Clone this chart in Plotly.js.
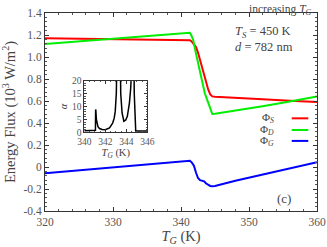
<!DOCTYPE html>
<html>
<head>
<meta charset="utf-8">
<script src="https://cdn.plot.ly/plotly-3.0.1.min.js"></script>
<style>html,body{margin:0;padding:0;background:#fff;}#plot{width:327px;height:247px;}</style>
</head>
<body>
<div id="plot"></div>
<script>
// Main panel data (T_G in K, flux in 10^3 W/m^2)
var tS = [320, 325, 330, 335, 340, 341, 341.3, 341.6, 341.9, 342.2, 342.5, 342.8, 343.1, 343.4, 343.7, 344.0, 344.3, 344.6, 345, 348, 352, 356, 360];
var phiS = [1.170, 1.166, 1.163, 1.160, 1.156, 1.155, 1.152, 1.140, 1.120, 1.090, 1.040, 0.975, 0.900, 0.830, 0.765, 0.705, 0.660, 0.642, 0.638, 0.631, 0.617, 0.603, 0.590];

var tD = [320, 325, 330, 335, 339, 340, 341, 341.3, 341.5, 341.8, 342.1, 342.5, 343.0, 343.5, 344.0, 344.3, 344.45, 344.6, 345, 348, 352, 356, 360];
var phiD = [1.118, 1.143, 1.167, 1.190, 1.208, 1.213, 1.220, 1.220, 1.200, 1.155, 1.060, 0.943, 0.800, 0.670, 0.585, 0.536, 0.505, 0.482, 0.484, 0.512, 0.552, 0.596, 0.640];

var tG = [320, 330, 335, 340, 341, 341.3, 341.6, 341.9, 342.2, 342.5, 342.8, 343.1, 343.4, 343.7, 344.0, 344.3, 344.6, 345, 348, 352, 356, 360];
var phiG = [-0.057, -0.003, 0.025, 0.052, 0.057, 0.057, 0.040, 0.012, -0.050, -0.100, -0.120, -0.124, -0.130, -0.150, -0.165, -0.172, -0.175, -0.172, -0.125, -0.070, -0.015, 0.043];

// Inset data: alpha vs T_G
var tA = [340, 340.5, 341.0, 341.06, 341.08, 341.1, 341.15, 341.22, 341.3, 341.45, 341.7, 342.0, 342.4, 342.7, 342.85, 342.95, 343.05, 343.15, 343.4, 343.47, 343.52, 343.6, 343.77, 343.95, 344.1, 344.3, 344.42, 344.5, 344.7, 344.76, 344.82, 344.9, 345.2, 346];
var alpha = [0.6, 0.6, 0.7, 0.8, 8.8, 8.5, 5.0, 3.0, 2.2, 1.5, 1.1, 1.0, 1.7, 3.6, 5.5, 8.2, 15, 40, 40, 15, 10.7, 7.5, 4.3, 4.8, 6.2, 11.4, 17, 40, 40, 15, 3, 0.5, 0.5, 0.5];

var serif = 'Liberation Serif, DejaVu Serif, serif';
var txt = '#444';

var traces = [
  {x: tS, y: phiS, type: 'scatter', mode: 'lines', line: {color: '#ff0000', width: 2}, xaxis: 'x', yaxis: 'y', hoverinfo: 'skip'},
  {x: tD, y: phiD, type: 'scatter', mode: 'lines', line: {color: '#00ee00', width: 2}, xaxis: 'x', yaxis: 'y', hoverinfo: 'skip'},
  {x: tG, y: phiG, type: 'scatter', mode: 'lines', line: {color: '#0000ff', width: 2}, xaxis: 'x', yaxis: 'y', hoverinfo: 'skip'},
  {x: tA, y: alpha, type: 'scatter', mode: 'lines', line: {color: '#000', width: 1.5}, xaxis: 'x2', yaxis: 'y2', hoverinfo: 'skip'}
];

var yTicks = [-0.4, -0.2, 0, 0.2, 0.4, 0.6, 0.8, 1.0, 1.2, 1.4];
var yTickText = ['-0.4', '-0.2', '0', '0.2', '0.4', '0.6', '0.8', '1.0', '1.2', '1.4'];

var legendY = [0.468, 0.409, 0.354];
var legendNames = ['Φ<sub><i>S</i></sub>', 'Φ<sub><i>D</i></sub>', 'Φ<sub><i>G</i></sub>'];
var legendColors = ['#ff0000', '#00ee00', '#0000ff'];

var annotations = [
  {text: 'increasing <i>T</i><sub><i>G</i></sub>', xref: 'paper', yref: 'paper', x: 0.99, y: 1.062, xanchor: 'right', yanchor: 'top', showarrow: false, font: {family: serif, size: 11.5, color: txt}},
  {text: '<i>T</i><sub><i>S</i></sub> = 450 K', xref: 'paper', yref: 'paper', x: 0.69, y: 0.906, xanchor: 'left', yanchor: 'middle', showarrow: false, font: {family: serif, size: 12.5, color: txt}},
  {text: '<i>d</i> = 782 nm', xref: 'paper', yref: 'paper', x: 0.69, y: 0.83, xanchor: 'left', yanchor: 'middle', showarrow: false, font: {family: serif, size: 12.5, color: txt}},
  {text: '(c)', xref: 'paper', yref: 'paper', x: 0.88, y: 0.064, xanchor: 'center', yanchor: 'middle', showarrow: false, font: {family: serif, size: 13, color: txt}}
];
var shapes = [];
for (var i = 0; i < 3; i++) {
  annotations.push({text: legendNames[i], xref: 'paper', yref: 'paper', x: 0.85, y: legendY[i], xanchor: 'right', yanchor: 'middle', showarrow: false, font: {family: serif, size: 11, color: txt}});
  shapes.push({type: 'line', xref: 'paper', yref: 'paper', x0: 0.907, x1: 0.968, y0: legendY[i], y1: legendY[i], line: {color: legendColors[i], width: 2}});
}

var layout = {
  width: 327, height: 247,
  margin: {l: 45, r: 10, t: 13, b: 36},
  paper_bgcolor: '#fff', plot_bgcolor: '#fff',
  showlegend: false,
  font: {family: serif, color: txt},
  xaxis: {
    range: [320, 360], dtick: 10, tick0: 320, ticks: 'inside', ticklen: 4, tickcolor: '#333',
    mirror: 'allticks', showline: true, linecolor: '#333', linewidth: 1, showgrid: false, zeroline: false,
    tickfont: {family: serif, size: 11.5, color: '#555'},
    minor: {dtick: 2, ticks: 'inside', ticklen: 2, tickcolor: '#555'},
    title: {text: '<i>T</i><sub><i>G</i></sub> (K)', font: {family: serif, size: 14.5, color: txt}, standoff: 4},
    domain: [0, 1]
  },
  yaxis: {
    range: [-0.4, 1.4], tickvals: yTicks, ticktext: yTickText, ticks: 'inside', ticklen: 4, tickcolor: '#333',
    mirror: 'allticks', showline: true, linecolor: '#333', linewidth: 1, showgrid: false, zeroline: false,
    tickfont: {family: serif, size: 11.5, color: '#555'},
    minor: {dtick: 0.04, ticks: 'inside', ticklen: 2, tickcolor: '#555'},
    title: {text: 'Energy Flux (10<sup>3</sup> W/m<sup>2</sup>)', font: {family: serif, size: 14.5, color: txt}, standoff: 5},
    domain: [0, 1]
  },
  xaxis2: {
    anchor: 'y2', domain: [0.1445, 0.376], range: [340, 346], dtick: 2, tick0: 340,
    ticks: 'inside', ticklen: 3, tickcolor: '#333', mirror: 'allticks', showline: true, linecolor: '#333', linewidth: 1,
    showgrid: false, zeroline: false,
    tickfont: {family: serif, size: 9.5, color: '#555'},
    minor: {dtick: 0.5, ticks: 'inside', ticklen: 1.5, tickcolor: '#555'},
    title: {text: '<i>T</i><sub><i>G</i></sub> (K)', font: {family: serif, size: 10.5, color: txt}, standoff: 2}
  },
  yaxis2: {
    anchor: 'x2', domain: [0.397, 0.659], range: [0, 20], dtick: 5, tick0: 0,
    ticks: 'inside', ticklen: 3, tickcolor: '#333', mirror: 'allticks', showline: true, linecolor: '#333', linewidth: 1,
    showgrid: false, zeroline: false,
    tickfont: {family: serif, size: 9.5, color: '#555'},
    minor: {dtick: 1, ticks: 'inside', ticklen: 1.5, tickcolor: '#555'},
    title: {text: '<i>α</i>', font: {family: serif, size: 10.5, color: txt}, standoff: 2}
  },
  annotations: annotations,
  shapes: shapes
};

Plotly.newPlot('plot', traces, layout, {staticPlot: true, displayModeBar: false});
</script>
</body>
</html>
